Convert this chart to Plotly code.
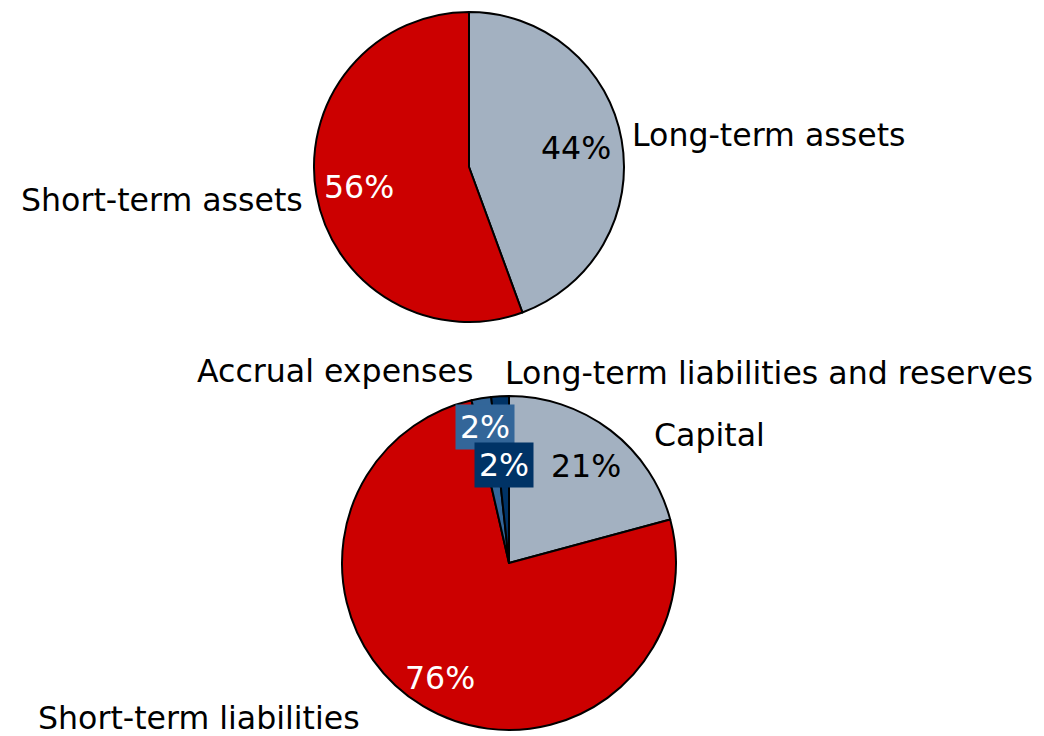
import math
import plotly.graph_objects as go

# Balance sheet structure
asset_labels = ["Long-term assets", "Short-term assets"]
asset_values = [44.4, 55.6]
asset_colors = ["#A3B1C1", "#CC0000"]
asset_text_colors = ["black", "white"]

liab_labels = ["Capital", "Short-term liabilities", "Accrual expenses",
               "Long-term liabilities and reserves"]
liab_values = [20.8, 75.6, 1.9, 1.7]
liab_colors = ["#A3B1C1", "#CC0000", "#336699", "#003366"]
liab_text_colors = ["black", "white", "white", "white"]

W, H = 1044, 736
FONT = "DejaVu Sans"
FS = 31.6
PAGE = 8  # body margin of the html page


def dom(left, top, size):
    left -= PAGE
    top -= PAGE
    return dict(x=[left / W, (left + size) / W], y=[(H - top - size) / H, (H - top) / H])


top_dom = dom(314, 12, 310)
bot_dom = dom(342, 396, 334)

fig = go.Figure()


def point(domain, frac, f):
    # pixel position at fraction `frac` of the way round (clockwise from 12 o'clock)
    cx = (domain["x"][0] + domain["x"][1]) / 2 * W
    cy = H - (domain["y"][0] + domain["y"][1]) / 2 * H
    r = (domain["y"][1] - domain["y"][0]) * H / 2
    a = 2 * math.pi * frac
    return cx + r * f * math.sin(a), cy - r * f * math.cos(a)


def label(x, y, text, color="black", xanchor="center", bg=None, xshift=0, yshift=0):
    fig.add_annotation(
        x=x / W, y=1 - y / H, xref="paper", yref="paper",
        text=text, showarrow=False, xanchor=xanchor, yanchor="middle",
        xshift=xshift, yshift=yshift,
        font=dict(family=FONT, size=FS, color=color),
        bgcolor=bg, borderpad=4 if bg else 0,
    )


def add_pie(labels, values, colors, domain):
    fig.add_trace(go.Pie(
        labels=labels, values=values, domain=domain,
        sort=False, direction="clockwise", rotation=0,
        marker=dict(colors=colors, line=dict(color="black", width=2)),
        textinfo="none", showlegend=False, hoverinfo="label+percent",
    ))


def mids(values):
    total = sum(values)
    out, cum = [], 0
    for v in values:
        out.append((cum + v / 2) / total)
        cum += v
    return out


add_pie(asset_labels, asset_values, asset_colors, top_dom)
add_pie(liab_labels, liab_values, liab_colors, bot_dom)

# top pie texts
tot = sum(asset_values)
m = mids(asset_values)
for i, (f_in, xa, dx, dy) in enumerate([(0.70, "left", 9, 5), (0.72, "right", -12, -6)]):
    x, y = point(top_dom, m[i], f_in)
    label(x, y, f"{asset_values[i] / tot:.0%}", asset_text_colors[i])
    x, y = point(top_dom, m[i], 1.0)
    label(x, y, asset_labels[i], xanchor=xa, xshift=dx, yshift=dy)

# bottom pie texts
tot = sum(liab_values)
m = mids(liab_values)
pct = [f"{v / tot:.0%}" for v in liab_values]

x, y = point(bot_dom, m[0], 0.76)
label(x, y, pct[0], liab_text_colors[0], yshift=-4)
x, y = point(bot_dom, m[1], 0.80)
label(x, y, pct[1], liab_text_colors[1])
x, y = point(bot_dom, m[2], 0.82)
label(x, y, pct[2], liab_text_colors[2], bg=liab_colors[2], xshift=-1, yshift=1)
x, y = point(bot_dom, m[3], 0.59)
label(x, y, pct[3], liab_text_colors[3], bg=liab_colors[3])

x, y = point(bot_dom, m[0], 1.0)
label(x, y, liab_labels[0], xanchor="left", xshift=42, yshift=-5)
x, y = point(bot_dom, m[1], 1.0)
label(x, y, liab_labels[1], xanchor="right", xshift=-62, yshift=-12)
start_accrual = (liab_values[0] + liab_values[1]) / tot
x, y = point(bot_dom, start_accrual, 1.15)
label(x, y, liab_labels[2], xanchor="right", xshift=8, yshift=5)
x, y = point(bot_dom, 1.0, 1.14)
label(x, y, liab_labels[3], xanchor="left", xshift=-5)

fig.update_layout(
    width=W, height=H,
    margin=dict(l=0, r=0, t=0, b=0, autoexpand=False),
    paper_bgcolor="white", plot_bgcolor="white",
    font=dict(family=FONT, size=FS, color="black"),
)

fig.write_html("out.html")
